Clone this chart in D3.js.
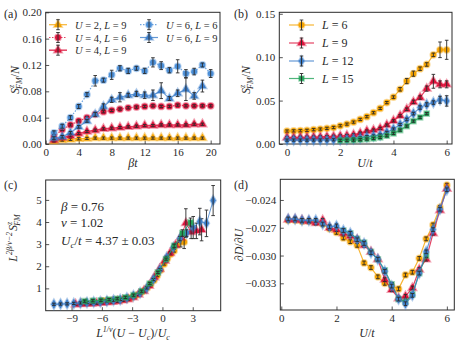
<!DOCTYPE html>
<html>
<head>
<meta charset="utf-8">
<script src="https://cdn.jsdelivr.net/npm/d3@7"></script>
<style>
body { margin: 0; background: #fff; }
svg { font-family: "Liberation Serif", "DejaVu Serif", serif; }
</style>
</head>
<body>
<div id="chart"></div>
<script>
// ---- panel (a): S_FM/N vs beta*t ----
const aBeta20 = [1,2,3,4,5,6,7,8,9,10,11,12,13,14,15,16,17,18,19,20];
const aBeta19 = [1,2,3,4,5,6,7,8,9,10,11,12,13,14,15,16,17,18,19];
const aU2L9 = [0.004,0.006,0.007,0.008,0.0085,0.009,0.009,0.009,0.009,0.009,0.009,0.009,0.009,0.009,0.009,0.009,0.009,0.009,0.009];
const aU4L6 = [0.011,0.022,0.029,0.035,0.040,0.045,0.049,0.051,0.053,0.055,0.056,0.057,0.058,0.057,0.057,0.059,0.058,0.058,0.058,0.058];
const aU4L9 = [0.006,0.0095,0.0125,0.016,0.019,0.021,0.023,0.024,0.025,0.026,0.027,0.028,0.028,0.029,0.029,0.029,0.029,0.030,0.030];
const aU6L6 = [0.017,0.027,0.040,0.057,0.075,0.096,0.097,0.105,0.115,0.111,0.115,0.111,0.124,0.119,0.112,0.118,0.107,0.110,0.120,0.107];
const aU6L6err = [0.003,0.003,0.003,0.003,0.003,0.008,0.003,0.007,0.004,0.004,0.003,0.004,0.007,0.006,0.004,0.010,0.006,0.005,0.003,0.006];
const aU6L9 = [0.009,0.011,0.017,0.026,0.035,0.045,0.057,0.067,0.071,0.074,0.076,0.074,0.074,0.081,0.069,0.077,0.083,0.073,0.088];
const aU6L9err = [0.002,0.002,0.002,0.002,0.002,0.003,0.004,0.004,0.007,0.003,0.004,0.005,0.008,0.012,0.003,0.005,0.017,0.005,0.009];

// ---- panel (b): S_FM/N vs U/t ----
const bU = [0,0.25,0.5,0.75,1,1.25,1.5,1.75,2,2.25,2.5,2.75,3,3.25,3.5,3.75,4,4.25,4.5,4.75,5,5.25,5.5,5.75,6];
const bU15 = [2,2.25,2.5,2.75,3,3.25,3.5,3.75,4,4.25,4.5,4.75,5,5.25];
const bL6 = [0.0149,0.0151,0.0153,0.0157,0.0165,0.0172,0.018,0.019,0.021,0.0229,0.0252,0.0283,0.0315,0.036,0.041,0.0477,0.054,0.063,0.0725,0.081,0.0867,0.0916,0.1027,0.1085,0.1085];
const bL6err = [0.001,0.001,0.001,0.001,0.001,0.001,0.001,0.001,0.001,0.001,0.001,0.001,0.001,0.001,0.001,0.001,0.0015,0.002,0.003,0.003,0.002,0.002,0.002,0.009,0.011];
const bL9 = [0.0075,0.0076,0.0077,0.0078,0.008,0.0082,0.0085,0.0088,0.0092,0.0098,0.0106,0.0125,0.0149,0.016,0.018,0.0218,0.0267,0.0325,0.040,0.0485,0.0535,0.0638,0.0722,0.0687,0.0687];
const bL9err = [0.001,0.001,0.001,0.001,0.001,0.001,0.001,0.001,0.001,0.001,0.001,0.001,0.001,0.001,0.001,0.001,0.001,0.001,0.0015,0.002,0.002,0.003,0.008,0.004,0.004];
const bL12 = [0.0045,0.0045,0.0045,0.0045,0.0046,0.0046,0.0047,0.0048,0.005,0.0055,0.006,0.007,0.0084,0.0092,0.0103,0.0134,0.0172,0.0225,0.0283,0.035,0.042,0.0455,0.0477,0.051,0.0496];
const bL12err = [0.001,0.001,0.001,0.001,0.001,0.001,0.001,0.001,0.001,0.001,0.001,0.001,0.001,0.001,0.001,0.001,0.001,0.001,0.0015,0.0015,0.002,0.002,0.002,0.004,0.006];
const bL15 = [0.0042,0.0043,0.0045,0.005,0.0057,0.0065,0.0076,0.0095,0.0122,0.016,0.0206,0.0263,0.0306,0.035];

// ---- panel (c): data collapse ----
const cX6 = [-5.79,-5.46,-5.13,-4.80,-4.47,-4.14,-3.80,-3.47,-3.14,-2.81,-2.48,-2.15,-1.82,-1.49,-1.16,-0.83,-0.50,-0.17,0.17,0.50,0.83,1.16,1.49,1.82,2.15];
const cY6 = [0.43,0.43,0.44,0.45,0.47,0.49,0.51,0.54,0.58,0.64,0.71,0.80,0.90,1.03,1.18,1.37,1.58,1.83,2.10,2.35,2.55,2.70,2.98,3.12,3.10];
const cE6 = [0.02,0.02,0.02,0.02,0.02,0.02,0.02,0.02,0.02,0.02,0.02,0.02,0.02,0.02,0.02,0.02,0.03,0.03,0.04,0.05,0.05,0.06,0.1,0.25,0.3];
const cX9 = [-8.6,-8.08,-7.56,-7.04,-6.52,-6.0,-5.48,-4.96,-4.44,-3.92,-3.4,-2.88,-2.36,-1.84,-1.32,-0.8,-0.28,0.24,0.76,1.28,1.8,2.32,2.84,3.36,3.88];
const cY9 = [0.28,0.29,0.30,0.31,0.33,0.35,0.37,0.39,0.42,0.46,0.51,0.60,0.72,0.88,1.12,1.50,1.88,2.25,2.60,2.95,3.30,3.95,3.55,3.60,3.65];
const cE9 = [0.02,0.02,0.02,0.02,0.02,0.02,0.02,0.02,0.02,0.02,0.02,0.02,0.02,0.02,0.02,0.03,0.03,0.04,0.05,0.08,0.1,0.65,0.3,0.35,0.5];
const cX12 = [-10.75,-10.09,-9.44,-8.78,-8.12,-7.47,-6.81,-6.15,-5.50,-4.84,-4.18,-3.52,-2.87,-2.21,-1.55,-0.90,-0.24,0.42,1.08,1.73,2.39,3.05,3.70,4.36,5.02];
const cY12 = [0.28,0.29,0.30,0.32,0.34,0.36,0.38,0.40,0.43,0.46,0.50,0.57,0.67,0.80,1.02,1.40,1.85,2.40,2.85,3.25,3.50,3.75,4.02,3.94,4.97];
const cE12 = [0.02,0.02,0.02,0.02,0.02,0.02,0.02,0.02,0.02,0.02,0.02,0.02,0.02,0.02,0.03,0.03,0.04,0.05,0.06,0.1,0.15,0.5,0.6,0.6,0.68];
const cX15 = [-7.7,-6.89,-6.09,-5.28,-4.48,-3.67,-2.86,-2.06,-1.25,-0.45,0.36,1.16,1.97,2.78];
const cY15 = [0.42,0.44,0.46,0.49,0.53,0.59,0.69,0.87,1.22,1.72,2.32,2.92,3.50,3.98];
const cE15 = [0.02,0.02,0.02,0.02,0.02,0.02,0.02,0.03,0.03,0.04,0.05,0.08,0.15,0.2];

// ---- panel (d): dD/dU ----
const dU = [0.25,0.5,0.75,1,1.25,1.5,1.75,2,2.25,2.5,2.75,3,3.25,3.5,3.75,4,4.25,4.5,4.75,5,5.25,5.5,5.75,6];
const dU15 = [2.25,2.5,2.75,3,3.25,3.5,3.75,4,4.25,4.5,4.75,5,5.25];
const dL6 = [-0.0262,-0.0262,-0.0263,-0.0263,-0.0264,-0.0266,-0.0271,-0.0275,-0.0281,-0.0285,-0.0289,-0.0308,-0.0313,-0.0323,-0.0330,-0.0333,-0.0336,-0.0321,-0.0318,-0.0303,-0.0282,-0.0267,-0.0248,-0.0224];
const dL9 = [-0.0261,-0.0261,-0.0262,-0.0263,-0.0265,-0.0262,-0.0270,-0.0272,-0.0276,-0.0279,-0.0283,-0.0289,-0.0296,-0.0304,-0.0326,-0.0337,-0.0346,-0.0344,-0.0335,-0.0315,-0.0304,-0.0276,-0.0251,-0.0228];
const dL12 = [-0.02605,-0.02605,-0.0262,-0.0262,-0.0262,-0.0266,-0.0269,-0.0268,-0.0273,-0.0276,-0.0283,-0.0287,-0.0297,-0.0304,-0.0317,-0.0333,-0.0347,-0.0352,-0.0343,-0.0319,-0.0296,-0.0272,-0.0250,-0.0229];
const dL15 = [-0.0273,-0.0276,-0.0282,-0.0286,-0.0296,-0.0304,-0.0316,-0.0331,-0.0347,-0.0350,-0.0342,-0.0319,-0.0300];

const width = 463, height = 348;
const orange = "#f5a300", red = "#dc143c", blue = "#3f7fca", blueL = "#4b8fd8", green = "#24a35a";
const ink = "#2a2a2a";

let svg = d3.select("#chart").append("svg")
    .attr("width", width)
    .attr("height", height);

function mathText(parent, x, y, parts, size, anchor) {
    let t = parent.append("text")
        .attr("x", x).attr("y", y)
        .attr("font-size", size)
        .attr("text-anchor", anchor || "start")
        .attr("fill", ink);
    parts.forEach(p => {
        let s = t.append("tspan").text(p[0]);
        if (p[1] === "i") s.attr("font-style", "italic");
        if (p[2]) s.attr("dy", p[2]);
        if (p[3]) s.attr("font-size", p[3]);
        if (p[4]) s.attr("dx", p[4]);
    });
    return t;
}

function makePanel(box, xdom, ydom, xticks, yticks, xfmt, yfmt) {
    let x = d3.scaleLinear().domain(xdom).range([box.x0, box.x1]);
    let y = d3.scaleLinear().domain(ydom).range([box.y1, box.y0]);
    let g = svg.append("g");

    let xa = g.append("g")
        .attr("transform", "translate(0," + box.y1 + ")")
        .call(d3.axisBottom(x).tickValues(xticks).tickFormat(xfmt).tickSizeInner(-3.5).tickSizeOuter(0).tickPadding(4));
    let ya = g.append("g")
        .attr("transform", "translate(" + box.x0 + ",0)")
        .call(d3.axisLeft(y).tickValues(yticks).tickFormat(yfmt).tickSizeInner(-3.5).tickSizeOuter(0).tickPadding(4));
    [xa, ya].forEach(a => {
        a.select(".domain").remove();
        a.selectAll("line").attr("stroke", ink).attr("stroke-width", 0.8);
        a.selectAll("text").attr("font-size", 11).attr("fill", ink)
            .attr("font-family", "'Liberation Serif', serif");
    });

    g.append("rect")
        .attr("x", box.x0).attr("y", box.y0)
        .attr("width", box.x1 - box.x0).attr("height", box.y1 - box.y0)
        .attr("fill", "none").attr("stroke", ink).attr("stroke-width", 1);

    return { x: x, y: y, g: g };
}

function symbolPath(sym, size) {
    return d3.symbol().type(sym).size(size)();
}

function errPath(cx, cy, lo, hi) {
    return "M" + cx + "," + lo + "V" + hi +
        "M" + (cx - 1.8) + "," + lo + "H" + (cx + 1.8) +
        "M" + (cx - 1.8) + "," + hi + "H" + (cx + 1.8);
}

function drawSeries(P, xs, ys, es, opt) {
    let pts = xs.map((v, i) => ({ x: v, y: ys[i], e: es ? es[i] : 0.0 }));
    let layer = P.g.append("g");

    layer.append("path")
        .datum(pts)
        .attr("d", d3.line().x(d => P.x(d.x)).y(d => P.y(d.y)))
        .attr("fill", "none")
        .attr("stroke", opt.color)
        .attr("stroke-width", opt.lw || 1.2)
        .attr("stroke-opacity", 0.8)
        .attr("stroke-dasharray", opt.dash || null);

    layer.selectAll(".mk")
        .data(pts)
        .enter().append("path")
        .attr("class", "mk")
        .attr("transform", d => "translate(" + P.x(d.x) + "," + P.y(d.y) + ")")
        .attr("d", symbolPath(opt.sym, opt.size || 24))
        .attr("fill", opt.color)
        .attr("stroke", opt.color)
        .attr("stroke-opacity", 0.4)
        .attr("stroke-width", 2);

    layer.selectAll(".eb")
        .data(pts)
        .enter().append("path")
        .attr("class", "eb")
        .attr("d", d => {
            let cx = P.x(d.x), cy = P.y(d.y);
            let h = Math.max(Math.abs(P.y(d.y + d.e) - cy), 1.1);
            return errPath(cx, cy, cy + h, cy - h);
        })
        .attr("fill", "none")
        .attr("stroke", ink)
        .attr("stroke-width", 0.9);
}

function legendItem(g, x0, x1, y, opt, parts, size) {
    let cx = (x0 + x1) / 2;
    g.append("line")
        .attr("x1", x0).attr("x2", x1).attr("y1", y).attr("y2", y)
        .attr("stroke", opt.color).attr("stroke-width", opt.lw || 1.2)
        .attr("stroke-opacity", 0.8)
        .attr("stroke-dasharray", opt.dash || null);
    g.append("path")
        .attr("transform", "translate(" + cx + "," + y + ")")
        .attr("d", symbolPath(opt.sym, opt.size || 24))
        .attr("fill", opt.color).attr("stroke", opt.color)
        .attr("stroke-opacity", 0.4).attr("stroke-width", 2);
    g.append("path")
        .attr("d", errPath(cx, y, y + 5, y - 5))
        .attr("fill", "none").attr("stroke", ink).attr("stroke-width", 0.9);
    mathText(g, x1 + 8, y + 4, parts, size);
}

// ---------- (a) ----------
const sU2L9 = { color: orange, sym: d3.symbolTriangle, size: 26 };
const sU4L6 = { color: red, sym: d3.symbolCircle, size: 26, dash: "1.5,1.5" };
const sU4L9 = { color: red, sym: d3.symbolTriangle, size: 26, lw: 1.5 };
const sU6L6 = { color: blueL, sym: d3.symbolCircle, size: 26, dash: "1.5,1.5" };
const sU6L9 = { color: blue, sym: d3.symbolTriangle, size: 26 };

let A = makePanel({ x0: 45.7, x1: 220, y0: 12.3, y1: 144 }, [0, 21.13], [0, 0.2],
    [0, 4, 8, 12, 16, 20], [0, 0.04, 0.08, 0.12, 0.16, 0.2], d3.format("d"), d3.format(".2f"));
drawSeries(A, aBeta19, aU2L9, aU2L9.map(() => 0.0005), sU2L9);
drawSeries(A, aBeta20, aU4L6, aU4L6.map(() => 0.001), sU4L6);
drawSeries(A, aBeta19, aU4L9, aU4L9.map(() => 0.001), sU4L9);
drawSeries(A, aBeta20, aU6L6, aU6L6err, sU6L6);
drawSeries(A, aBeta19, aU6L9, aU6L9err, sU6L9);

legendItem(A.g, 49, 67, 24.7, sU2L9, [["U", "i"], [" = 2, "], ["L", "i"], [" = 9"]], 10.5);
legendItem(A.g, 49, 67, 37.5, sU4L6, [["U", "i"], [" = 4, "], ["L", "i"], [" = 6"]], 10.5);
legendItem(A.g, 49, 67, 50.2, sU4L9, [["U", "i"], [" = 4, "], ["L", "i"], [" = 9"]], 10.5);
legendItem(A.g, 140, 158, 24.7, sU6L6, [["U", "i"], [" = 6, "], ["L", "i"], [" = 6"]], 10.5);
legendItem(A.g, 140, 158, 37.5, sU6L9, [["U", "i"], [" = 6, "], ["L", "i"], [" = 9"]], 10.5);

mathText(svg, 133, 167, [["βt", "i"]], 12, "middle");
mathText(svg, 0, 0, [["S", "i"], ["z", "i", -5, 8], ["FM", "i", 8, 8, -4], ["/", "", -3], ["N", "i"]], 12, "middle")
    .attr("transform", "translate(19,80) rotate(-90)");
svg.append("text").attr("x", 4).attr("y", 18).attr("font-size", 12).attr("fill", ink).text("(a)");

// ---------- (b) ----------
const sL6 = { color: orange, sym: d3.symbolCircle, size: 26 };
const sL9 = { color: red, sym: d3.symbolTriangle, size: 26 };
const sL12 = { color: blue, sym: d3.symbolDiamond, size: 26 };
const sL15 = { color: green, sym: d3.symbolSquare, size: 22 };

let B = makePanel({ x0: 279.3, x1: 452, y0: 12.3, y1: 144 }, [-0.29, 6.2], [0, 0.1517],
    [0, 2, 4, 6], [0, 0.05, 0.1, 0.15], d3.format("d"), d3.format(".2f"));
drawSeries(B, bU, bL6, bL6err, sL6);
drawSeries(B, bU, bL9, bL9err, sL9);
drawSeries(B, bU, bL12, bL12err, sL12);
drawSeries(B, bU15, bL15, bL15.map(() => 0.001), sL15);

legendItem(B.g, 289, 314, 25, sL6, [["L", "i"], [" = 6"]], 12);
legendItem(B.g, 289, 314, 43, sL9, [["L", "i"], [" = 9"]], 12);
legendItem(B.g, 289, 314, 61, sL12, [["L", "i"], [" = 12"]], 12);
legendItem(B.g, 289, 314, 78.5, sL15, [["L", "i"], [" = 15"]], 12);

mathText(svg, 365, 167, [["U", "i"], ["/"], ["t", "i"]], 12, "middle");
mathText(svg, 0, 0, [["S", "i"], ["z", "i", -5, 8], ["FM", "i", 8, 8, -4], ["/", "", -3], ["N", "i"]], 12, "middle")
    .attr("transform", "translate(250,80) rotate(-90)");
svg.append("text").attr("x", 234).attr("y", 18).attr("font-size", 12).attr("fill", ink).text("(b)");

// ---------- (c) ----------
let C = makePanel({ x0: 45.7, x1: 220.7, y0: 180, y1: 310.7 }, [-11.56, 5.77], [-0.01, 5.9],
    [-9, -6, -3, 0, 3], [1, 2, 3, 4, 5], d3.format("d"), d3.format("d"));
drawSeries(C, cX6, cY6, cE6, { color: orange, sym: d3.symbolCircle, size: 26, lw: 1 });
drawSeries(C, cX9, cY9, cE9, { color: red, sym: d3.symbolTriangle, size: 26, lw: 1 });
drawSeries(C, cX12, cY12, cE12, { color: blue, sym: d3.symbolDiamond, size: 26, lw: 1 });
drawSeries(C, cX15, cY15, cE15, { color: green, sym: d3.symbolSquare, size: 22, lw: 1 });

mathText(svg, 61, 211, [["β", "i"], [" = 0.76"]], 13);
mathText(svg, 61, 227, [["ν", "i"], [" = 1.02"]], 13);
mathText(svg, 61, 245, [["U", "i"], ["c", "i", 3, 9], ["/", "", -3], ["t", "i"], [" = 4.37 ± 0.03"]], 13);

mathText(svg, 133, 337, [["L", "i"], ["1/ν", "i", -5, 8], ["(", "", 5], ["U", "i"], [" − "], ["U", "i"], ["c", "i", 3, 8], [")/", "", -3], ["U", "i"], ["c", "i", 3, 8]], 12, "middle");
mathText(svg, 0, 0, [["L", "i"], ["2β/ν−2", "i", -5, 8], ["S", "i", 5, null, 1], ["z", "i", -5, 8], ["FM", "i", 8, 8, -4]], 12, "middle")
    .attr("transform", "translate(17,238) rotate(-90)");
svg.append("text").attr("x", 4).attr("y", 189).attr("font-size", 12).attr("fill", ink).text("(c)");

// ---------- (d) ----------
let D = makePanel({ x0: 280.3, x1: 454.3, y0: 179.3, y1: 310 }, [-0.036, 6.27], [-0.03588, -0.02177],
    [0, 2, 4, 6], [-0.024, -0.027, -0.030, -0.033], d3.format("d"), d3.format(".3f"));
drawSeries(D, dU, dL6, dL6.map(() => 0.0002), sL6);
drawSeries(D, dU, dL9, dL9.map(() => 0.0002), sL9);
drawSeries(D, dU15, dL15, dL15.map(() => 0.0002), sL15);
drawSeries(D, dU, dL12, dL12.map(() => 0.0002), sL12);

mathText(svg, 367, 337, [["U", "i"], ["/"], ["t", "i"]], 12, "middle");
mathText(svg, 0, 0, [["∂"], ["D", "i"], ["/∂"], ["U", "i"]], 12, "middle")
    .attr("transform", "translate(243,245) rotate(-90)");
svg.append("text").attr("x", 234).attr("y", 189).attr("font-size", 12).attr("fill", ink).text("(d)");
</script>
</body>
</html>
